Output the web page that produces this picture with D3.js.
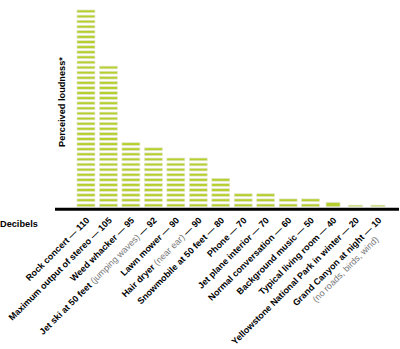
<!DOCTYPE html>
<html>
<head>
<meta charset="utf-8">
<script src="https://cdn.jsdelivr.net/npm/d3@7"></script>
<style>
  html, body { margin: 0; padding: 0; background: #fff; }
  svg { display: block; }
  text { font-family: "Liberation Sans", Arial, sans-serif; }
</style>
</head>
<body>
<svg id="chart" width="400" height="349"></svg>
<script>
// Sound sources, their decibel level and perceived loudness (in stacked units)
const sources = [
  "Rock concert", "Maximum output of stereo", "Weed whacker", "Jet ski at 50 feet",
  "Lawn mower", "Hair dryer", "Snowmobile at 50 feet", "Phone", "Jet plane interior",
  "Normal conversation", "Background music", "Typical living room",
  "Yellowstone National Park in winter", "Grand Canyon at night"
];
const decibels = [110, 105, 95, 92, 90, 90, 80, 70, 70, 60, 50, 40, 20, 10];
const loudness = [39, 28, 13, 12, 10, 10, 6, 3, 3, 2, 2, 0.85, 0.3, 0.3];
// Gray asides printed inside a label, and one printed on its own line below
const inlineNotes = ["", "", "", "(jumping waves)", "", "(near ear)", "", "", "", "", "", "", "", ""];
const lineNotes = ["", "", "", "", "", "", "", "", "", "", "", "", "", "(no roads, birds, wind)"];

const green = "#b7cf2c";
const svg = d3.select("#chart");

const x = d3.scaleBand()
  .domain(sources)
  .range([74.75, 389.2])
  .paddingInner(0.2)
  .paddingOuter(0.1);

const y = d3.scaleLinear()
  .domain([0, 39])
  .range([206.7, 7.6]);

const stripeH = 2.7;

// Each bar is a stack of thin stripes, one per unit of loudness
const bars = svg.append("g").selectAll("g")
  .data(sources.map((s, i) => ({ s, v: loudness[i] })))
  .join("g");

bars.each(function(d) {
  const g = d3.select(this);
  if (d.v >= 1) {
    const n = Math.round(d.v);
    g.selectAll("rect")
      .data(d3.range(n))
      .join("rect")
      .attr("x", x(d.s))
      .attr("width", x.bandwidth())
      .attr("y", k => y(k) - stripeH)
      .attr("height", stripeH)
      .attr("fill", green)
      .attr("stroke", "#e2e7cc")
      .attr("stroke-width", 0.7);
  } else {
    // less than one unit: a single shorter block
    g.append("rect")
      .attr("x", x(d.s) + 2)
      .attr("width", x.bandwidth() - 4)
      .attr("y", y(d.v))
      .attr("height", y(0) - y(d.v))
      .attr("fill", green)
      .attr("stroke", "#e2e7cc")
      .attr("stroke-width", 0.7);
  }
});

// Baseline
svg.append("line")
  .attr("x1", 55).attr("x2", 399)
  .attr("y1", 209.2).attr("y2", 209.2)
  .attr("stroke", "#000")
  .attr("stroke-width", 3);

// Axis titles
svg.append("text")
  .attr("transform", "translate(65,147) rotate(-90)")
  .attr("font-size", 9.2)
  .attr("font-weight", "bold")
  .text("Perceived loudness*");

svg.append("text")
  .attr("x", 0).attr("y", 227)
  .attr("font-size", 9.2)
  .attr("font-weight", "bold")
  .text("Decibels");

// Diagonal category labels
const labelSize = 9;
const labels = svg.append("g").selectAll("g")
  .data(sources.map((s, i) => ({ s, db: decibels[i], note: inlineNotes[i], sub: lineNotes[i] })))
  .join("g")
  .attr("transform", d => `translate(${x(d.s) + x.bandwidth() / 2 + 4},221) rotate(-45)`);

labels.append("text")
  .attr("text-anchor", "end")
  .attr("font-size", labelSize)
  .attr("font-weight", "bold")
  .each(function(d) {
    const t = d3.select(this);
    t.append("tspan").text(d.s + (d.note ? " " : ""));
    if (d.note) {
      t.append("tspan")
        .attr("font-weight", "normal")
        .attr("fill", "#777")
        .text(d.note);
    }
    t.append("tspan").text(" \u2014 " + d.db);
  });

labels.filter(d => d.sub)
  .append("text")
  .attr("text-anchor", "end")
  .attr("x", -15.4)
  .attr("y", 11.5)
  .attr("font-size", labelSize)
  .attr("fill", "#777")
  .text(d => d.sub);
</script>
</body>
</html>
